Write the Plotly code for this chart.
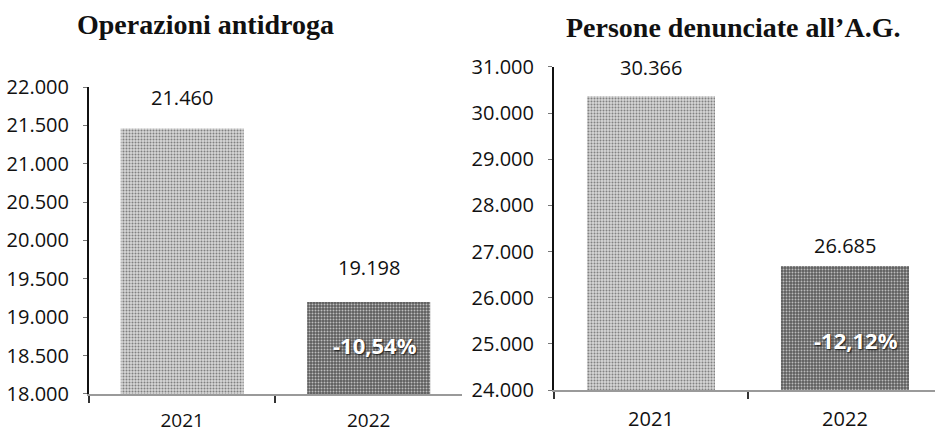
import plotly.graph_objects as go

# Values for the two panels
years = ["2021", "2022"]
operazioni = [21460, 19198]
persone = [30366, 26685]

titles = ["Operazioni antidroga", "Persone denunciate all\u2019A.G."]

light_fill = "#d6d6d6"
dark_fill = "#5c5c5c"
sans = "Open Sans, Noto Sans, sans-serif"
serif = "Liberation Serif, Times New Roman, serif"


def it_num(v):
    return f"{v:,}".replace(",", ".")


def pct(a, b):
    return f"{(b - a) / a * 100:.2f}".replace(".", ",") + "%"


fig = go.Figure()

panels = [
    dict(vals=operazioni, xa="x", ya="y", rng=[18000, 22000], dt=500,
         xdom=[0.0952, 0.494], ydom=[0.088, 0.7986], xr=[-0.5, 1.5],
         shifts=[31, 35], pshift=(6, 3), xstand=8, xsize=19),
    dict(vals=persone, xa="x2", ya="y2", rng=[24000, 31000], dt=1000,
         xdom=[0.5925, 1.0], ydom=[0.0972, 0.845], xr=[-0.5, 1.464],
         shifts=[29, 21], pshift=(11, -12), xstand=10, xsize=20),
]

for i, p in enumerate(panels):
    fig.add_trace(go.Bar(
        x=years, y=p["vals"], xaxis=p["xa"], yaxis=p["ya"],
        width=0.66,
        marker=dict(
            color=[light_fill, dark_fill],
            line=dict(width=0),
            pattern=dict(shape=".", size=3, solidity=0.35,
                         fgcolor=["#b8b8b8", "#3e3e3e"],
                         fgopacity=0.6),
        ),
        showlegend=False, hoverinfo="skip",
    ))
    sfx = "" if i == 0 else "2"
    fig.layout["xaxis" + sfx] = dict(
        domain=p["xdom"], anchor="y" + sfx, range=p["xr"],
        type="category", showline=True, linecolor="#9a9a9a", linewidth=1.5,
        ticks="outside", tickson="boundaries", ticklen=7, tickcolor="#333",
        tickwidth=1.5, showgrid=False, zeroline=False, automargin=False,
        ticklabelstandoff=p["xstand"],
        tickfont=dict(family=sans, size=p["xsize"], color="#111"),
    )
    fig.layout["yaxis" + sfx] = dict(
        domain=p["ydom"], anchor="x" + sfx, range=p["rng"], dtick=p["dt"],
        tick0=p["rng"][0], tickformat=",.0f", showline=True, linecolor="#111",
        linewidth=2, ticks="outside", ticklen=4, tickcolor="#777",
        showgrid=False, zeroline=False, automargin=False,
        ticklabelstandoff=10,
        tickfont=dict(family=sans, size=20, color="#111"),
    )
    # value labels above each bar
    for j, v in enumerate(p["vals"]):
        fig.add_annotation(
            x=j, y=v, xref=p["xa"], yref=p["ya"], text=it_num(v),
            showarrow=False, xanchor="center", yanchor="middle",
            yshift=p["shifts"][j],
            font=dict(family=sans, size=20, color="#111"),
        )
    # percentage change inside the 2022 bar
    a, b = p["vals"]
    fig.add_annotation(
        x=1, y=(p["rng"][0] + b) / 2, xref=p["xa"], yref=p["ya"],
        text="<b>" + pct(a, b) + "</b>", showarrow=False,
        xanchor="center", yanchor="middle",
        xshift=p["pshift"][0], yshift=p["pshift"][1],
        font=dict(family=sans, size=22, color="white",
                  shadow="1px 1px 2px #111"),
    )

# panel titles
fig.add_annotation(x=205 / 935, y=1 - 25 / 432, xref="paper", yref="paper",
                   xanchor="center", yanchor="middle",
                   text="<b>" + titles[0] + "</b>", showarrow=False,
                   font=dict(family=serif, size=28, color="#111"))
fig.add_annotation(x=733 / 935, y=1 - 27 / 432, xref="paper", yref="paper",
                   xanchor="center", yanchor="middle",
                   text="<b>" + titles[1] + "</b>", showarrow=False,
                   font=dict(family=serif, size=28, color="#111"))

fig.update_layout(
    width=935, height=432, margin=dict(l=0, r=0, t=0, b=0),
    paper_bgcolor="white", plot_bgcolor="white", separators=",.",
)

fig.write_html("out.html")
